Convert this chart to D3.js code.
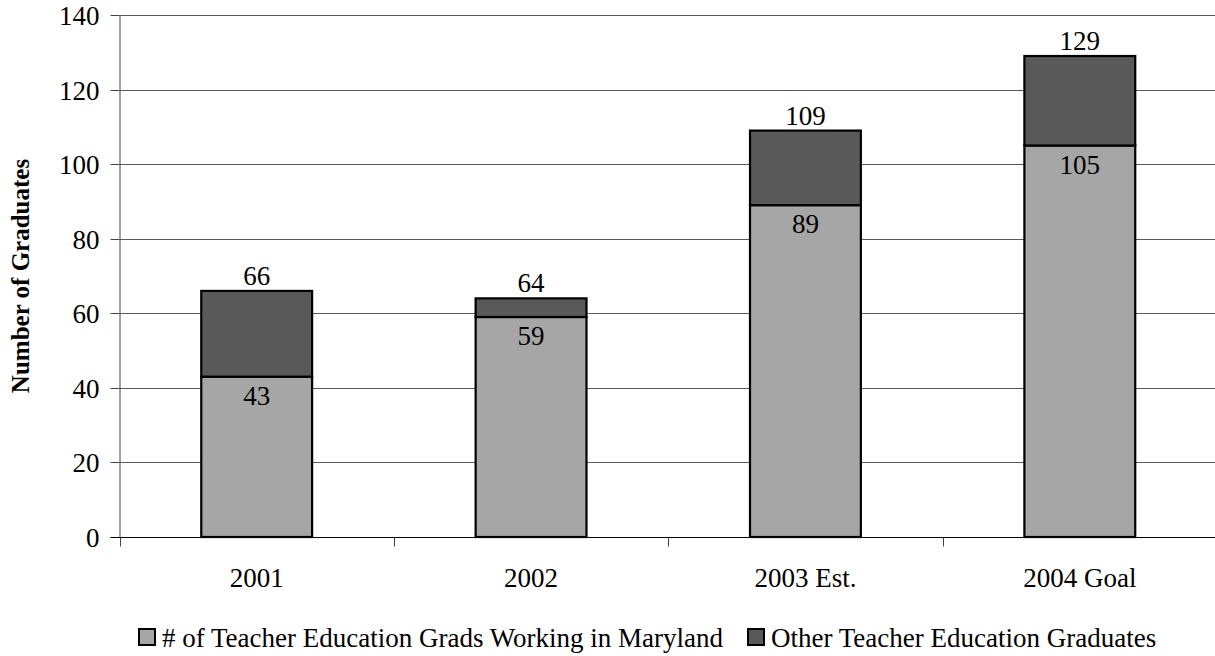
<!DOCTYPE html>
<html>
<head>
<meta charset="utf-8">
<script src="https://cdn.jsdelivr.net/npm/d3@7"></script>
<style>
  html, body { margin: 0; padding: 0; background: #fff; }
  svg text { font-family: "Liberation Serif", "Times New Roman", "DejaVu Serif", serif; fill: #000; }
</style>
</head>
<body>
<svg id="chart" width="1215" height="656" font-family="Liberation Serif, serif"></svg>
<script>
// Graduates per year, split by where they work
const categories = ["2001", "2002", "2003 Est.", "2004 Goal"];
const marylandGrads = [43, 59, 89, 105];
const totalGrads = [66, 64, 109, 129];
const otherGrads = totalGrads.map((t, i) => t - marylandGrads[i]);
const yTicks = [0, 20, 40, 60, 80, 100, 120, 140];
const seriesNames = ["# of Teacher Education Grads Working in Maryland", "Other Teacher Education Graduates"];
const seriesColors = ["#a6a6a6", "#595959"];

const FS = 27;
const svg = d3.select("#chart");
const margin = { left: 119.5, right: -2, top: 15, bottom: 119 };
const W = 1215, H = 656;

const x = d3.scaleBand()
  .domain(categories)
  .range([margin.left, W - margin.right])
  .paddingInner(0)
  .paddingOuter(0);

const y = d3.scaleLinear()
  .domain([0, 140])
  .range([H - margin.bottom, margin.top]);

// horizontal gridlines
svg.append("g")
  .selectAll("line")
  .data(yTicks.filter(d => d > 0))
  .join("line")
  .attr("x1", margin.left)
  .attr("x2", W)
  .attr("y1", d => Math.round(y(d)) + 0.5)
  .attr("y2", d => Math.round(y(d)) + 0.5)
  .attr("stroke", "#5a5a5a")
  .attr("stroke-width", 1);

// y axis
const yAxis = svg.append("g")
  .attr("transform", `translate(${margin.left},0)`)
  .call(d3.axisLeft(y).tickValues(yTicks).tickSize(9).tickPadding(11).tickSizeOuter(0));
yAxis.attr("font-family", null);
yAxis.select(".domain").attr("stroke", "#444");
yAxis.selectAll(".tick line").attr("stroke", "#444");
yAxis.selectAll(".tick text").attr("font-size", FS).attr("dy", "0.34em");
yAxis.selectAll(".tick").attr("transform", d => `translate(0,${Math.round(y(d)) + 0.5})`);

// x axis with ticks at category boundaries
const y0 = Math.round(y(0)) + 0.5;
svg.append("line")
  .attr("x1", margin.left - 9).attr("x2", W)
  .attr("y1", y0).attr("y2", y0)
  .attr("stroke", "#000").attr("stroke-width", 1);
svg.append("g")
  .selectAll("line")
  .data(categories)
  .join("line")
  .attr("x1", d => Math.round(x(d)) + 0.5)
  .attr("x2", d => Math.round(x(d)) + 0.5)
  .attr("y1", y0).attr("y2", y0 + 9)
  .attr("stroke", "#444");
svg.append("g")
  .selectAll("text")
  .data(categories)
  .join("text")
  .attr("x", d => x(d) + x.bandwidth() / 2)
  .attr("y", y0 + 49)
  .attr("text-anchor", "middle")
  .attr("font-size", FS)
  .text(d => d);

// stacked bars
const barW = x.bandwidth() * 0.404;
const bars = svg.append("g");
categories.forEach((c, i) => {
  const cx = x(c) + x.bandwidth() / 2;
  const segs = [
    { lo: 0, hi: marylandGrads[i], color: seriesColors[0] },
    { lo: marylandGrads[i], hi: marylandGrads[i] + otherGrads[i], color: seriesColors[1] }
  ];
  segs.forEach(s => {
    bars.append("rect")
      .attr("x", cx - barW / 2)
      .attr("y", y(s.hi))
      .attr("width", barW)
      .attr("height", y(s.lo) - y(s.hi))
      .attr("fill", s.color)
      .attr("stroke", "#000")
      .attr("stroke-width", 2.2);
  });
  // value inside lower segment
  bars.append("text")
    .attr("x", cx)
    .attr("y", y(marylandGrads[i]) + 28)
    .attr("text-anchor", "middle")
    .attr("font-size", FS)
    .text(marylandGrads[i]);
  // total above the stack
  bars.append("text")
    .attr("x", cx)
    .attr("y", y(totalGrads[i]) - 6)
    .attr("text-anchor", "middle")
    .attr("font-size", FS)
    .text(totalGrads[i]);
});

// y axis title
svg.append("text")
  .attr("transform", `translate(29,${(margin.top + y(0)) / 2}) rotate(-90)`)
  .attr("text-anchor", "middle")
  .attr("font-size", 25)
  .attr("font-weight", "bold")
  .text("Number of Graduates");

// legend
const legend = svg.append("g");
const legendItems = [
  { x: 139, tx: 162, name: seriesNames[0], color: seriesColors[0] },
  { x: 748, tx: 771, name: seriesNames[1], color: seriesColors[1] }
];
legendItems.forEach(it => {
  legend.append("rect")
    .attr("x", it.x).attr("y", 629)
    .attr("width", 16).attr("height", 16)
    .attr("fill", it.color)
    .attr("stroke", "#000").attr("stroke-width", 2);
  legend.append("text")
    .attr("x", it.tx).attr("y", 647)
    .attr("font-size", FS)
    .text(it.name);
});
</script>
</body>
</html>
